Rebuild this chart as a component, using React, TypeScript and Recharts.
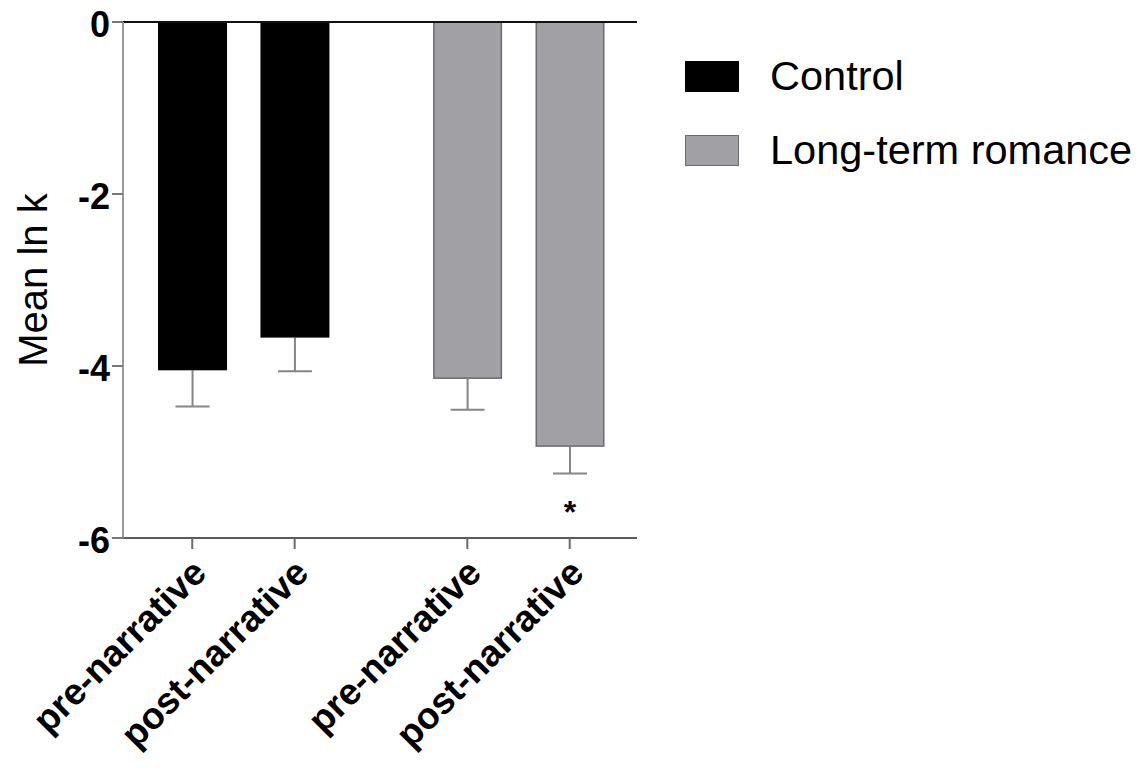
import {
  Bar,
  BarChart,
  Label,
  ReferenceLine,
  XAxis,
  YAxis
} from 'recharts'

const labels = ['pre-narrative', 'post-narrative', 'pre-narrative', 'post-narrative']
const groups = ['Control', 'Control', 'Long-term romance', 'Long-term romance']
const slots = [0, 1, 2.686, 3.686]
const means = [-4.05, -3.67, -4.15, -4.94]
const sems = [0.42, 0.39, 0.36, 0.31]
const significant = [false, false, false, true]

const yTicks = [0, -2, -4, -6]
const seriesNames = ['Control', 'Long-term romance']

const fills: Record<string, string> = {
  Control: '#000000',
  'Long-term romance': '#a1a1a5'
}
const strokes: Record<string, string> = {
  Control: '#000000',
  'Long-term romance': '#6b6b6e'
}

const data = slots.map((slot, i) => ({
  slot,
  label: labels[i],
  group: groups[i],
  mean: means[i],
  sem: sems[i],
  sig: significant[i]
}))

const font = '"Liberation Sans", Arial, Helvetica, sans-serif'

function BarWithError(props: any) {
  const { x, y, width, height, payload } = props
  const top = Math.min(y, y + height)
  const h = Math.abs(height)
  const bottom = top + h
  const pxPerUnit = h / Math.abs(payload.mean)
  const errEnd = bottom + payload.sem * pxPerUnit
  const cx = x + width / 2
  const cap = 17
  return (
    <g>
      <line x1={cx} y1={bottom} x2={cx} y2={errEnd} stroke="#858585" strokeWidth={2} />
      <line x1={cx - cap} y1={errEnd} x2={cx + cap} y2={errEnd} stroke="#858585" strokeWidth={2} />
      <rect
        x={x + 0.75}
        y={top}
        width={width - 1.5}
        height={h - 0.75}
        fill={fills[payload.group]}
        stroke={strokes[payload.group]}
        strokeWidth={1.5}
      />
      {payload.sig && (
        <text
          x={cx}
          y={errEnd + 49}
          textAnchor="middle"
          fontFamily={font}
          fontWeight="bold"
          fontSize={32}
          fill="#000"
        >
          *
        </text>
      )}
    </g>
  )
}

function XTick(props: any) {
  const { x, y, payload } = props
  const i = slots.indexOf(payload.value)
  const ax = x + 16
  const ay = y + 24
  return (
    <text
      x={ax}
      y={ay}
      transform={`rotate(-45, ${ax}, ${ay})`}
      textAnchor="end"
      fontFamily={font}
      fontWeight="bold"
      fontSize={37}
      fill="#000"
    >
      {labels[i]}
    </text>
  )
}

function YTitle(props: any) {
  const { viewBox } = props
  const cy = viewBox.y + viewBox.height / 2
  const tx = 47
  return (
    <text
      x={tx}
      y={cy}
      transform={`rotate(-90, ${tx}, ${cy})`}
      textAnchor="middle"
      fontFamily={font}
      fontSize={40}
      fill="#000"
    >
      Mean ln k
    </text>
  )
}

export default function App() {
  return (
    <div style={{ position: 'absolute', left: 0, top: 0, width: 1141, height: 770, background: '#fff' }}>
      <BarChart
        width={1141}
        height={770}
        data={data}
        margin={{ top: 22, right: 504, bottom: 0, left: 0 }}
      >
        <XAxis
          dataKey="slot"
          type="number"
          domain={[-0.676, 4.343]}
          ticks={slots}
          interval={0}
          height={232}
          tick={<XTick />}
          tickSize={11}
          tickLine={{ stroke: '#6a6a6a', strokeWidth: 2 }}
          axisLine={{ stroke: '#5a5a5a', strokeWidth: 2 }}
        />
        <YAxis
          domain={[-6, 0]}
          ticks={yTicks}
          width={123}
          tickSize={11}
          tick={{ fontFamily: font, fontWeight: 'bold', fontSize: 36, fill: '#000', dy: 2 }}
          tickLine={{ stroke: '#777', strokeWidth: 2 }}
          axisLine={{ stroke: '#9a9a9a', strokeWidth: 2 }}
        >
          <Label content={<YTitle />} />
        </YAxis>
        <ReferenceLine y={0} stroke="#111" strokeWidth={2} />
        <Bar dataKey="mean" barSize={69} shape={<BarWithError />} isAnimationActive={false} />
      </BarChart>
      <div style={{ position: 'absolute', left: 685, top: 60, fontFamily: font, fontSize: 41.5, color: '#000' }}>
        {seriesNames.map((name, i) => (
          <div key={name} style={{ display: 'flex', alignItems: 'center', height: 32, marginBottom: i === 0 ? 42 : 0 }}>
            <div
              style={{
                width: 52,
                height: 29,
                background: fills[name],
                border: `1.5px solid ${strokes[name]}`,
                marginRight: 31
              }}
            />
            <span style={{ whiteSpace: 'nowrap' }}>{name}</span>
          </div>
        ))}
      </div>
    </div>
  )
}
